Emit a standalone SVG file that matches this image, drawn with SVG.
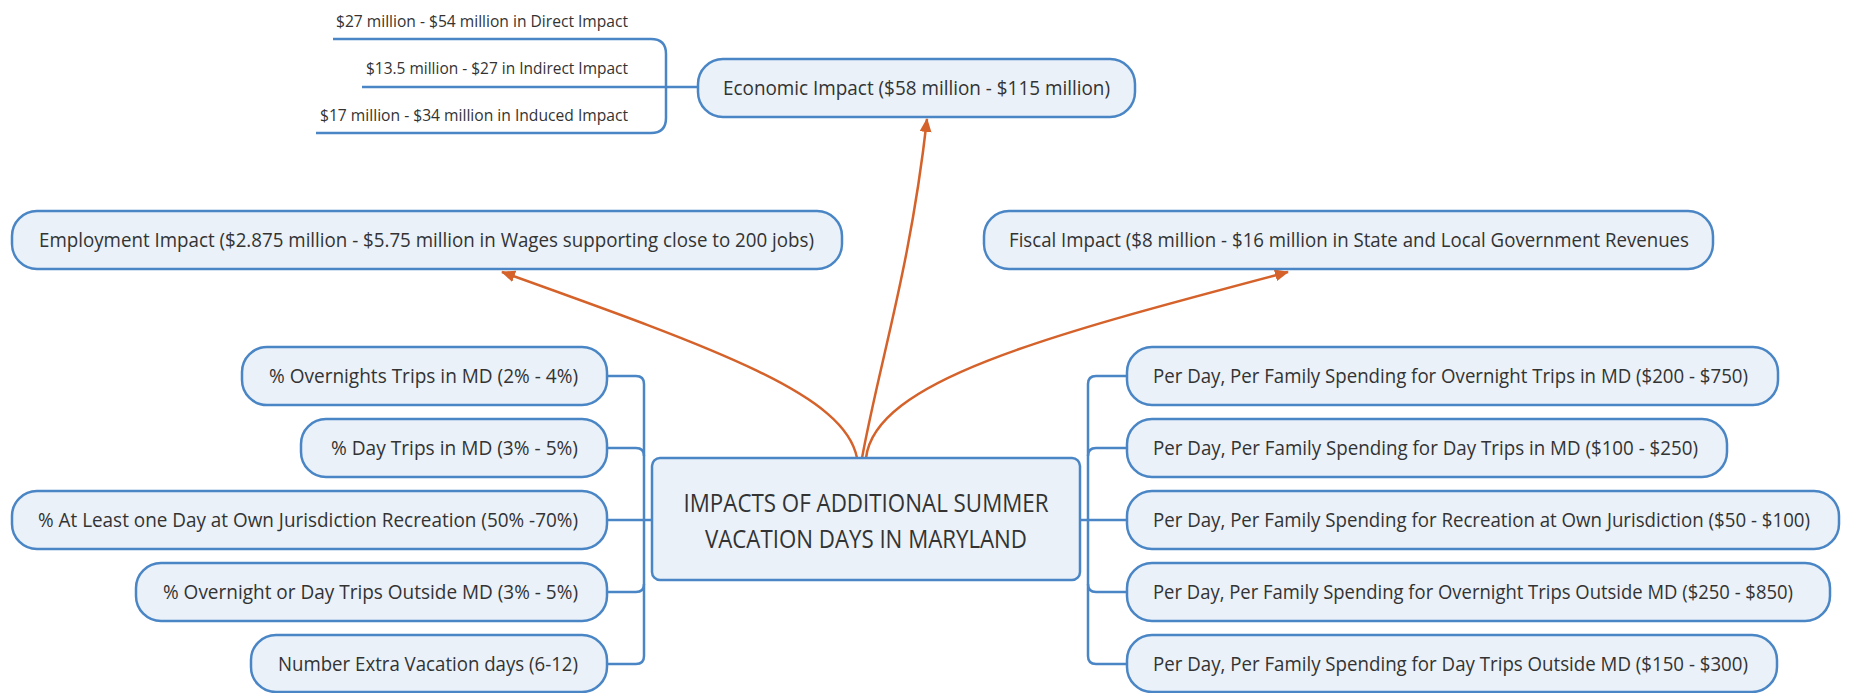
<svg xmlns="http://www.w3.org/2000/svg" width="1849" height="693" viewBox="0 0 1849 693">
<defs>
<style>
.node{fill:#eaf1f8;stroke:#4a86c5;stroke-width:2.5}
.t{font-family:"Open Sans","Liberation Sans",sans-serif;font-size:20px;fill:#333}
.sub{font-family:"Open Sans","Liberation Sans",sans-serif;font-size:16.5px;fill:#333}
.ctr{font-family:"Open Sans","Liberation Sans",sans-serif;font-size:25px;fill:#333}
.blue{fill:none;stroke:#4a86c5;stroke-width:2.5}
.org{fill:none;stroke:#d4622a;stroke-width:2.5}
</style>
<marker id="ah" viewBox="0 0 14 12" refX="13" refY="6" markerWidth="14" markerHeight="12" markerUnits="userSpaceOnUse" orient="auto">
<path d="M0,0 L14,6 L0,12 Z" fill="#d4622a"/>
</marker>
</defs>
<rect width="1849" height="693" fill="#fff"/>

<g id="connectors">
<path class="blue" d="M333,39 H651 Q666,39 666,54 V118 Q666,133 651,133 H316"/>
<path class="blue" d="M362,87 H698"/>
<path class="blue" d="M607,376 H636 Q644,376 644,384 V656 Q644,664 636,664 H607"/>
<path class="blue" d="M607,448 H636 Q644,448 644,456"/>
<path class="blue" d="M607,592 H636 Q644,592 644,584"/>
<path class="blue" d="M607,520 H652"/>
<path class="blue" d="M1127,376 H1096 Q1088,376 1088,384 V656 Q1088,664 1096,664 H1127"/>
<path class="blue" d="M1127,448 H1096 Q1088,448 1088,456"/>
<path class="blue" d="M1127,592 H1096 Q1088,592 1088,584"/>
<path class="blue" d="M1080,520 H1127"/>
<path class="org" d="M862,458 C880,360 910,270 927,119" marker-end="url(#ah)"/>
<path class="org" d="M857,458 C845,395 720,350 502,272" marker-end="url(#ah)"/>
<path class="org" d="M866,458 C875,380 1050,335 1288,272" marker-end="url(#ah)"/>
</g>

<g id="sub-direct"><text class="sub" x="628" y="27" text-anchor="end" textLength="292" lengthAdjust="spacingAndGlyphs">$27 million - $54 million in Direct Impact</text></g>
<g id="sub-indirect"><text class="sub" x="628" y="74" text-anchor="end" textLength="262" lengthAdjust="spacingAndGlyphs">$13.5 million - $27 in Indirect Impact</text></g>
<g id="sub-induced"><text class="sub" x="628" y="121" text-anchor="end" textLength="308" lengthAdjust="spacingAndGlyphs">$17 million - $34 million in Induced Impact</text></g>

<g id="economic"><rect class="node" x="698" y="59" width="437" height="58" rx="25"/><text class="t" x="723" y="95" textLength="387" lengthAdjust="spacingAndGlyphs">Economic Impact ($58 million - $115 million)</text></g>
<g id="employment"><rect class="node" x="12" y="211" width="830" height="58" rx="25"/><text class="t" x="39" y="247" textLength="775" lengthAdjust="spacingAndGlyphs">Employment Impact ($2.875 million - $5.75 million in Wages supporting close to 200 jobs)</text></g>
<g id="fiscal"><rect class="node" x="984" y="211" width="729" height="58" rx="25"/><text class="t" x="1009" y="247" textLength="680" lengthAdjust="spacingAndGlyphs">Fiscal Impact ($8 million - $16 million in State and Local Government Revenues</text></g>

<g id="center"><rect class="node" x="652" y="458" width="428" height="122" rx="8"/>
<text class="ctr" x="866" y="512" text-anchor="middle" textLength="365" lengthAdjust="spacingAndGlyphs">IMPACTS OF ADDITIONAL SUMMER</text>
<text class="ctr" x="866" y="548" text-anchor="middle" textLength="322" lengthAdjust="spacingAndGlyphs">VACATION DAYS IN MARYLAND</text></g>

<g id="left1"><rect class="node" x="242" y="347" width="365" height="58" rx="25"/><text class="t" x="269" y="383" textLength="309" lengthAdjust="spacingAndGlyphs">% Overnights Trips in MD (2% - 4%)</text></g>
<g id="left2"><rect class="node" x="301" y="419" width="306" height="58" rx="25"/><text class="t" x="331" y="455" textLength="247" lengthAdjust="spacingAndGlyphs">% Day Trips in MD (3% - 5%)</text></g>
<g id="left3"><rect class="node" x="12" y="491" width="595" height="58" rx="25"/><text class="t" x="38" y="527" textLength="540" lengthAdjust="spacingAndGlyphs">% At Least one Day at Own Jurisdiction Recreation (50% -70%)</text></g>
<g id="left4"><rect class="node" x="136" y="563" width="471" height="58" rx="25"/><text class="t" x="163" y="599" textLength="415" lengthAdjust="spacingAndGlyphs">% Overnight or Day Trips Outside MD (3% - 5%)</text></g>
<g id="left5"><rect class="node" x="251" y="635" width="356" height="57" rx="25"/><text class="t" x="278" y="671" textLength="300" lengthAdjust="spacingAndGlyphs">Number Extra Vacation days (6-12)</text></g>

<g id="right1"><rect class="node" x="1127" y="347" width="651" height="58" rx="25"/><text class="t" x="1153" y="383" textLength="595" lengthAdjust="spacingAndGlyphs">Per Day, Per Family Spending for Overnight Trips in MD ($200 - $750)</text></g>
<g id="right2"><rect class="node" x="1127" y="419" width="600" height="58" rx="25"/><text class="t" x="1153" y="455" textLength="545" lengthAdjust="spacingAndGlyphs">Per Day, Per Family Spending for Day Trips in MD ($100 - $250)</text></g>
<g id="right3"><rect class="node" x="1127" y="491" width="712" height="58" rx="25"/><text class="t" x="1153" y="527" textLength="657" lengthAdjust="spacingAndGlyphs">Per Day, Per Family Spending for Recreation at Own Jurisdiction ($50 - $100)</text></g>
<g id="right4"><rect class="node" x="1127" y="563" width="703" height="58" rx="25"/><text class="t" x="1153" y="599" textLength="640" lengthAdjust="spacingAndGlyphs">Per Day, Per Family Spending for Overnight Trips Outside MD ($250 - $850)</text></g>
<g id="right5"><rect class="node" x="1127" y="635" width="650" height="57" rx="25"/><text class="t" x="1153" y="671" textLength="595" lengthAdjust="spacingAndGlyphs">Per Day, Per Family Spending for Day Trips Outside MD ($150 - $300)</text></g>
</svg>
